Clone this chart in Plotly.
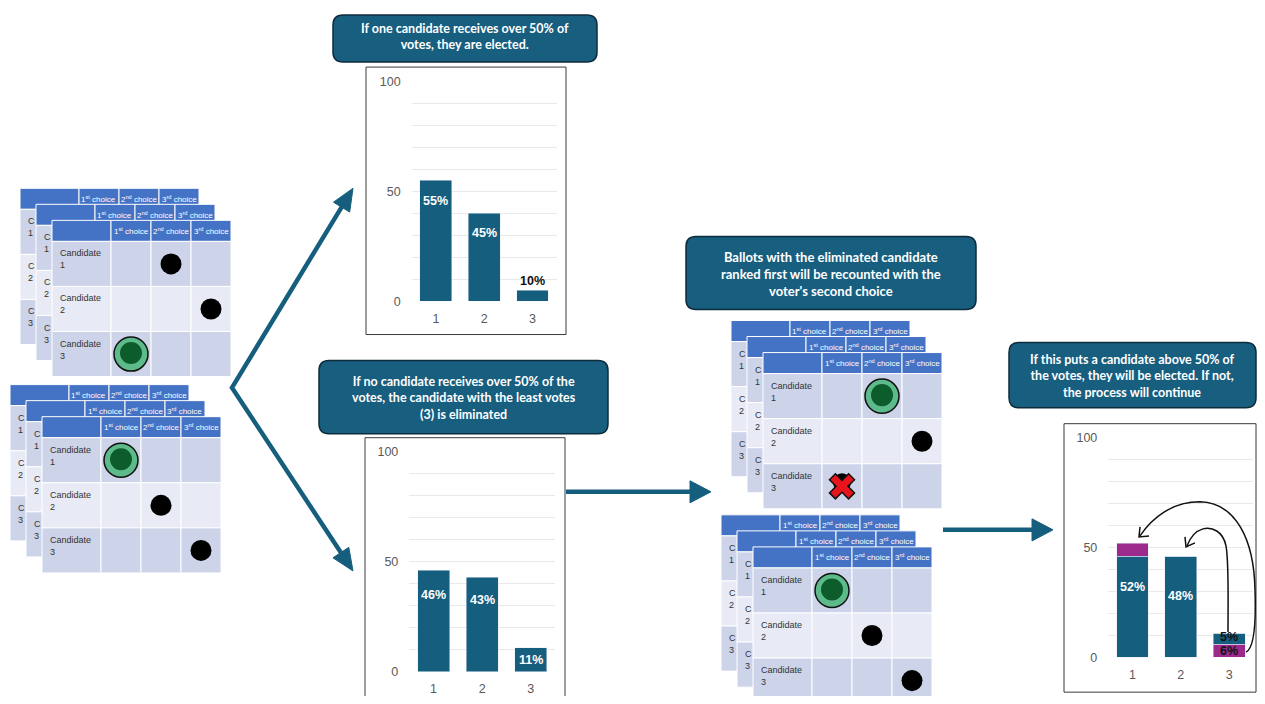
import math
import plotly.graph_objects as go

# Figure size that fits the page (body margin); window pixels are mapped into it
W, H = 1249, 688
OFF_X = 8
OFF_Y = 16
SCALE_Y = 0.978

# ---------------- data ----------------
candidates = ["1", "2", "3"]
first_round_heights = [55, 40, 5]
first_round_labels = ["55%", "45%", "10%"]
second_round_heights = [46, 43, 11]
second_round_labels = ["46%", "43%", "11%"]
recount_kept = [46, 46, 5]
recount_moved_top = [6, 0, 0]
recount_moved_bottom = [0, 0, 6]
recount_labels = ["52%", "48%", "5%"]
recount_moved_labels = ["", "", "6%"]
y_tick_values = [0, 50, 100]

choice_headers = ["1<sup>st</sup> choice", "2<sup>nd</sup> choice", "3<sup>rd</sup> choice"]
candidate_rows = ["1", "2", "3"]
# ballot marks: (row, column, kind)
marks_top_left = [(0, 1, "dot"), (1, 2, "dot"), (2, 0, "pick")]
marks_bottom_left = [(0, 0, "pick"), (1, 1, "dot"), (2, 2, "dot")]
marks_mid_top = [(0, 1, "pick"), (1, 2, "dot"), (2, 0, "cross")]
marks_mid_bottom = [(0, 0, "pick"), (1, 1, "dot"), (2, 2, "dot")]

box_texts = [
    "If one candidate receives over 50% of<br>votes, they are elected.",
    "If no candidate receives over 50% of the<br>votes, the candidate with the least votes<br>(3) is eliminated",
    "Ballots with the eliminated candidate<br>ranked first will be recounted with the<br>voter's second choice",
    "If this puts a candidate above 50% of<br>the votes, they will be elected. If not,<br>the process will continue",
]

# ---------------- styles ----------------
TEAL = "#165E7E"
MAGENTA = "#9C2A8C"
BOX_FILL = "#175E7F"
BOX_LINE = "#0E2C3C"
HEADER = "#4472C4"
ROW_A = "#CDD4E9"
ROW_B = "#E8EBF5"
GRID = "#E9E9E9"
TICK = "#595959"
FONT = "Liberation Sans"

shapes = []
annots = []


def px(x):
    return (x - OFF_X) / W


def py(y):
    return 1 - ((y - OFF_Y) / SCALE_Y) / H


def pt(x, y):
    return f"{px(x):.5f},{py(y):.5f}"


def rect(x0, y0, x1, y1, fill, line_color="white", lw=1):
    shapes.append(dict(type="rect", xref="paper", yref="paper",
                       x0=px(x0), x1=px(x1), y0=py(y1), y1=py(y0),
                       fillcolor=fill, line=dict(color=line_color, width=lw)))


def circle(cx, cy, r, fill, line_color=None, lw=0):
    shapes.append(dict(type="circle", xref="paper", yref="paper",
                       x0=px(cx - r), x1=px(cx + r), y0=py(cy + r), y1=py(cy - r),
                       fillcolor=fill,
                       line=dict(color=line_color or fill, width=lw)))


def path(d, line_color, lw, fill="rgba(0,0,0,0)"):
    shapes.append(dict(type="path", xref="paper", yref="paper", path=d,
                       fillcolor=fill, line=dict(color=line_color, width=lw)))


def text(x, y, s, size, color, xanchor="center", yanchor="middle",
         align="center", family=FONT):
    annots.append(dict(x=px(x), y=py(y), xref="paper", yref="paper", text=s,
                       showarrow=False, xanchor=xanchor, yanchor=yanchor,
                       align=align, font=dict(size=size, color=color, family=family)))


def rounded_box(x0, y0, x1, y1, r, content, size, ty=None):
    d = (f"M {pt(x0 + r, y0)} L {pt(x1 - r, y0)} Q {pt(x1, y0)} {pt(x1, y0 + r)} "
         f"L {pt(x1, y1 - r)} Q {pt(x1, y1)} {pt(x1 - r, y1)} "
         f"L {pt(x0 + r, y1)} Q {pt(x0, y1)} {pt(x0, y1 - r)} "
         f"L {pt(x0, y0 + r)} Q {pt(x0, y0)} {pt(x0 + r, y0)} Z")
    path(d, BOX_LINE, 1.5, BOX_FILL)
    cy = (y0 + y1) / 2 + 1 if ty is None else ty
    text((x0 + x1) / 2, cy, "<b>" + content + "</b>", size, "white", family="Lato")


LW, CW, HH, RH = 59, 40, 21, 45


def ballot(left, top, front, marks):
    rect(left, top, left + LW, top + HH, HEADER)
    for c in range(3):
        rect(left + LW + CW * c, top, left + LW + CW * (c + 1), top + HH, HEADER)
        text(left + LW + CW * c + CW / 2, top + HH / 2, choice_headers[c], 8, "white")
    for r in range(3):
        fill = ROW_A if r % 2 == 0 else ROW_B
        y0 = top + HH + RH * r
        rect(left, y0, left + LW, y0 + RH, fill)
        for c in range(3):
            rect(left + LW + CW * c, y0, left + LW + CW * (c + 1), y0 + RH, fill)
        label = ("Candidate<br>" if front else "C<br>") + candidate_rows[r]
        text(left + 6, y0 + 5, label, 9, "#333333", xanchor="left",
             yanchor="top", align="left")
    if front:
        for (r, c, kind) in marks:
            cx = left + LW + CW * c + CW / 2
            cy = top + HH + RH * r + RH / 2
            if kind == "dot":
                circle(cx, cy, 10.5, "black")
            elif kind == "pick":
                circle(cx, cy, 17, "#5DBA8A", "#111111", 1.5)
                circle(cx, cy - 1, 11, "#0D5C2B")
            else:
                circle(cx, cy - 4, 9, "black")
                a, s = 4.2, 13.5
                base = [(a, a), (a, s), (-a, s), (-a, a), (-s, a), (-s, -a), (-a, -a),
                        (-a, -s), (a, -s), (a, -a), (s, -a), (s, a)]
                cs = math.cos(math.pi / 4)
                ptsx = [(cx + (u - v) * cs, cy + (u + v) * cs) for u, v in base]
                d = "M " + " L ".join(pt(x, y) for x, y in ptsx) + " Z"
                path(d, "#111111", 1.5, "#E8141C")


def ballot_group(front_left, front_top, marks):
    ballot(front_left - 32, front_top - 32, False, marks)
    ballot(front_left - 16, front_top - 16, False, marks)
    ballot(front_left, front_top, True, marks)


ballot_group(52, 221, marks_top_left)
ballot_group(42, 417, marks_bottom_left)
ballot_group(763, 353, marks_mid_top)
ballot_group(753, 547, marks_mid_bottom)

# ---------------- text boxes ----------------
rounded_box(333, 16, 597, 63, 10, box_texts[0], 12.5, ty=37)
rounded_box(319, 361, 608, 434, 10, box_texts[1], 12.5)
rounded_box(686, 237, 976, 310, 10, box_texts[2], 13)
rounded_box(1009, 343, 1256, 408, 10, box_texts[3], 12.5)

# ---------------- chart frames ----------------
rect(366, 68, 566, 335, "rgba(0,0,0,0)", "#3A3A3A", 1)
rect(365, 438, 565, 712, "rgba(0,0,0,0)", "#3A3A3A", 1)
rect(1064, 424, 1256, 692, "rgba(0,0,0,0)", "#3A3A3A", 1)


# ---------------- big arrows ----------------
def head(tip, tail, length, width):
    dx, dy = tip[0] - tail[0], tip[1] - tail[1]
    n = math.hypot(dx, dy)
    ux, uy = dx / n, dy / n
    bx, by = tip[0] - ux * length, tip[1] - uy * length
    nx, ny = -uy, ux
    p1 = (bx + nx * width / 2, by + ny * width / 2)
    p2 = (bx - nx * width / 2, by - ny * width / 2)
    d = f"M {pt(*tip)} L {pt(*p1)} L {pt(*p2)} Z"
    path(d, TEAL, 1, TEAL)
    return (tip[0] - ux * (length - 3), tip[1] - uy * (length - 3))


V = (232, 388)
bu = head((353, 189), V, 22, 19)
bl = head((353, 571), V, 22, 19)
path(f"M {pt(*bu)} L {pt(*V)} L {pt(*bl)}", TEAL, 4.5)

b1 = head((711, 492), (566, 492), 21, 22)
path(f"M {pt(566, 492)} L {pt(*b1)}", TEAL, 4.5)
b2 = head((1053, 530), (943, 530), 21, 22)
path(f"M {pt(943, 530)} L {pt(*b2)}", TEAL, 4.5)

# ---------------- curved transfer arrows (chart 3) ----------------
path(f"M {pt(1246, 652)} C {pt(1255, 648)} {pt(1256, 620)} {pt(1255, 590)} "
     f"C {pt(1254, 540)} {pt(1236, 503)} {pt(1200, 502)} "
     f"C {pt(1172, 502)} {pt(1152, 518)} {pt(1140, 536)}", "#111111", 1.5)
path(f"M {pt(1140, 527)} L {pt(1139, 537)} L {pt(1149, 536)}", "#111111", 1.5)
path(f"M {pt(1228, 632)} C {pt(1228, 600)} {pt(1229, 562)} {pt(1226, 546)} "
     f"C {pt(1223, 531)} {pt(1212, 527)} {pt(1203, 529)} "
     f"C {pt(1196, 531)} {pt(1190, 538)} {pt(1187, 546)}", "#111111", 1.5)
path(f"M {pt(1185, 537)} L {pt(1186, 547)} L {pt(1195, 543)}", "#111111", 1.5)

# ---------------- bar charts ----------------
fig = go.Figure()
BW = 0.66
fig.add_trace(go.Bar(x=candidates, y=first_round_heights, marker_color=TEAL,
                     width=BW, xaxis="x", yaxis="y", hoverinfo="skip"))
fig.add_trace(go.Bar(x=candidates, y=second_round_heights, marker_color=TEAL,
                     width=BW, xaxis="x2", yaxis="y2", hoverinfo="skip"))
fig.add_trace(go.Bar(x=candidates, y=recount_moved_bottom, marker_color=MAGENTA,
                     width=BW, xaxis="x3", yaxis="y3", hoverinfo="skip"))
fig.add_trace(go.Bar(x=candidates, y=recount_kept, marker_color=TEAL,
                     width=BW, xaxis="x3", yaxis="y3", hoverinfo="skip"))
fig.add_trace(go.Bar(x=candidates, y=recount_moved_top, marker_color=MAGENTA,
                     width=BW, xaxis="x3", yaxis="y3", hoverinfo="skip"))


def bar_label(axis, idx, y, s, color, yshift):
    # category axis: an annotation x given as a number is the category index
    annots.append(dict(x=idx, y=y, xref="x" + axis, yref="y" + axis,
                       text="<b>" + s + "</b>",
                       showarrow=False, yshift=yshift, xanchor="center", yanchor="middle",
                       font=dict(size=12.5, color=color, family=FONT)))


shifts1 = [-21, -20, 9]
colors1 = ["white", "white", "#111111"]
for i in range(len(candidates)):
    bar_label("", i, first_round_heights[i], first_round_labels[i], colors1[i], shifts1[i])
shifts2 = [-25, -23, -12]
for i in range(len(candidates)):
    bar_label("2", i, second_round_heights[i], second_round_labels[i], "white", shifts2[i])
totals3 = [recount_kept[i] + recount_moved_top[i] + recount_moved_bottom[i] for i in range(3)]
bar_label("3", 0, totals3[0], recount_labels[0], "white", -44)
bar_label("3", 1, totals3[1], recount_labels[1], "white", -40)
bar_label("3", 2, recount_moved_bottom[2] + recount_kept[2] / 2,
          recount_labels[2], "#111111", 2)
bar_label("3", 2, recount_moved_bottom[2] / 2, recount_moved_labels[2], "#111111", 0)


def xdom(a, b):
    return [px(a), px(b)]


def ydom(top, bottom):
    return [py(bottom), py(top)]


axes = {
    "": (xdom(411.7, 556.7), ydom(82.3, 301.7)),
    "2": (xdom(409.3, 555.0), ydom(451.7, 671.7)),
    "3": (xdom(1108.3, 1253.3), ydom(438.3, 657.3)),
}
layout_axes = {}
for k, (xd, yd) in axes.items():
    layout_axes["xaxis" + k] = dict(domain=xd, type="category", range=[-0.5, 2.5],
                                    anchor="y" + k, showgrid=False, zeroline=False,
                                    showline=False, ticks="", ticklabelstandoff=8,
                                    tickfont=dict(size=12.5, color=TICK, family=FONT),
                                    fixedrange=True)
    layout_axes["yaxis" + k] = dict(domain=yd, range=[0, 100], anchor="x" + k,
                                    tickvals=y_tick_values, showgrid=True, gridcolor=GRID,
                                    gridwidth=1, zeroline=False, showline=False,
                                    ticklabelstandoff=10,
                                    minor=dict(dtick=10, showgrid=True, gridcolor=GRID,
                                               gridwidth=1),
                                    tickfont=dict(size=12.5, color=TICK, family=FONT),
                                    fixedrange=True)

fig.update_layout(width=W, height=H, margin=dict(l=0, r=0, t=0, b=0),
                  paper_bgcolor="white", plot_bgcolor="rgba(0,0,0,0)",
                  showlegend=False, barmode="stack", bargap=0.34,
                  shapes=shapes, annotations=annots, **layout_axes)

fig.write_html("out.html", config=dict(displayModeBar=False))
